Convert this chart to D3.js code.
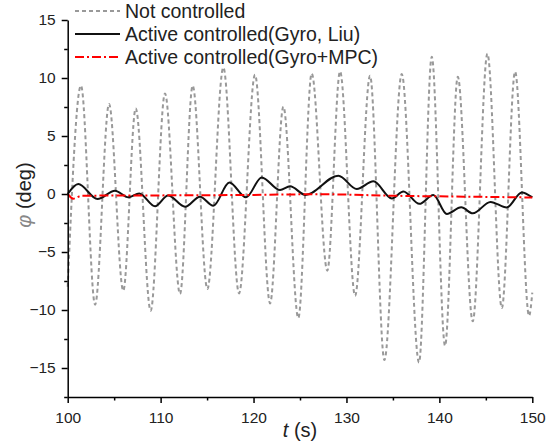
<!DOCTYPE html>
<html>
<head>
<meta charset="utf-8">
<script src="https://cdn.jsdelivr.net/npm/d3@7"></script>
<style>
  body { margin: 0; background: #fff; }
  text { font-family: Arial, "Liberation Sans", sans-serif; }
</style>
</head>
<body>
<div id="chart"></div>
<script>
const tNotControlled = [100, 101.43, 102.95, 104.45, 105.98, 107.32, 108.93, 110.47, 112.09, 113.45,
    115.03, 116.75, 118.44, 120.16, 121.78, 123.21, 124.82, 126.26, 127.94, 129.31, 130.93,
    132.54, 134.08, 135.95, 137.81, 139.18, 140.61, 141.98, 143.59, 145.17, 146.72, 148.15, 149.65, 150];
const phiNotControlled = [-8.0, 9.34, -9.54, 7.76, -8.34, 7.38, -10.06, 8.67, -8.62, 9.34,
    -8.19, 10.9, -8.57, 10.28, -9.43, 7.53, -10.69, 10.39, -6.61, 10.57, -8.77,
    10.2, -14.31, 10.34, -14.52, 11.83, -13.08, 10.11, -10.98, 12.1, -9.83, 10.55, -10.5, -8.5];

const tLiu = [100, 101.14, 103.2, 105.09, 106.52, 107.7, 109.4, 110.8, 112.63, 114.24, 115.67,
    117.4, 119.19, 120.88, 122.85, 123.93, 125.6, 129.13, 131.11, 132.9, 134.88, 136.13,
    137.85, 139.35, 140.8, 142.35, 143.6, 145.5, 147.25, 148.87, 150];
const phiLiu = [0.0, 0.86, -0.43, 0.28, -0.29, 0.05, -1.05, -0.12, -1.1, -0.23, -1.01,
    1.0, -0.29, 1.43, 0.34, 0.66, -0.08, 1.58, 0.43, 1.09, -0.38, 0.22,
    -0.85, -0.09, -1.72, -1.15, -1.67, -0.68, -1.16, 0.14, -0.29];

const tMpc = [100, 100.6, 101.5, 110, 120, 127, 135, 145, 150];
const phiMpc = [0.0, -0.4, -0.15, -0.12, -0.08, -0.02, -0.15, -0.25, -0.3];

const xTicks = [100, 110, 120, 130, 140, 150];
const xMinorTicks = [105, 115, 125, 135, 145];
const yTicks = [-15, -10, -5, 0, 5, 10, 15];
const yMinorTicks = [-17.5, -12.5, -7.5, -2.5, 2.5, 7.5, 12.5];

const seriesNames = ["Not controlled", "Active controlled(Gyro, Liu)", "Active controlled(Gyro+MPC)"];

function chart() {
    const width = 553;
    const height = 448;

    const svg = d3.select("#chart").append("svg")
        .attr("width", width)
        .attr("height", height);

    const x = d3.scaleLinear().domain([100, 150]).range([67.7, 532.3]);
    const y = d3.scaleLinear().domain([-17.5, 15]).range([397, 20]);

    const line = d3.line()
        .x(d => x(d[0]))
        .y(d => y(d[1]))
        .curve(d3.curveMonotoneX);

    const styles = [
        {stroke: "#999", width: 2, dash: "4,3"},
        {stroke: "#111", width: 2, dash: null},
        {stroke: "#ff0000", width: 2, dash: "9,3,2,3"}
    ];

    const series = [
        d3.zip(tNotControlled, phiNotControlled),
        d3.zip(tLiu, phiLiu),
        d3.zip(tMpc, phiMpc)
    ];

    svg.append("g")
      .selectAll("path")
      .data(series)
      .join("path")
        .attr("fill", "none")
        .attr("stroke", (d, i) => styles[i].stroke)
        .attr("stroke-width", (d, i) => styles[i].width)
        .attr("stroke-dasharray", (d, i) => styles[i].dash)
        .attr("d", line);

    // axes
    const xAxis = svg.append("g")
        .attr("transform", `translate(0,${y(-17.5)})`)
        .call(d3.axisBottom(x).tickValues(xTicks).tickSize(6).tickSizeOuter(0).tickPadding(5));
    svg.append("g")
        .attr("transform", `translate(0,${y(-17.5)})`)
        .call(d3.axisBottom(x).tickValues(xMinorTicks).tickSize(3.5).tickFormat(""))
        .call(g => g.select(".domain").remove());

    svg.append("g")
        .attr("transform", `translate(${x(100)},0)`)
        .call(d3.axisLeft(y).tickValues(yTicks).tickSize(6).tickSizeOuter(0).tickPadding(6)
            .tickFormat(d => d < 0 ? "\u2212" + Math.abs(d) : d));
    svg.append("g")
        .attr("transform", `translate(${x(100)},0)`)
        .call(d3.axisLeft(y).tickValues(yMinorTicks).tickSize(3.5).tickFormat(""))
        .call(g => g.select(".domain").remove());

    svg.selectAll(".domain, .tick line")
        .attr("stroke", "#000")
        .attr("stroke-width", 1.5);

    svg.selectAll(".tick text")
        .attr("fill", "#222")
        .style("font-size", "15.5px");
    xAxis.selectAll(".tick text").attr("dy", "0.95em");

    // axis titles
    const xTitle = svg.append("text")
        .attr("x", 300)
        .attr("y", 437)
        .attr("text-anchor", "middle")
        .attr("fill", "#222")
        .style("font-size", "20px");
    xTitle.append("tspan").attr("font-style", "italic").text("t");
    xTitle.append("tspan").text(" (s)");

    const yTitle = svg.append("text")
        .attr("transform", "translate(31,195) rotate(-90)")
        .attr("text-anchor", "middle")
        .attr("fill", "#222")
        .style("font-size", "20px");
    yTitle.append("tspan").attr("font-style", "italic").attr("fill", "#888").text("\u03c6");
    yTitle.append("tspan").text(" (deg)");

    // legend
    const legend = svg.append("g")
      .selectAll("g")
      .data(seriesNames)
      .join("g")
        .attr("transform", (d, i) => `translate(75,${11 + i * 23})`);

    legend.append("line")
        .attr("x1", 0)
        .attr("x2", 45)
        .attr("stroke", (d, i) => styles[i].stroke)
        .attr("stroke-width", (d, i) => styles[i].width)
        .attr("stroke-dasharray", (d, i) => styles[i].dash);

    legend.append("text")
        .attr("x", 50)
        .attr("y", 6.5)
        .attr("fill", "#222")
        .style("font-size", "19.5px")
        .text(d => d);

    return svg.node();
}

chart();
</script>
</body>
</html>
